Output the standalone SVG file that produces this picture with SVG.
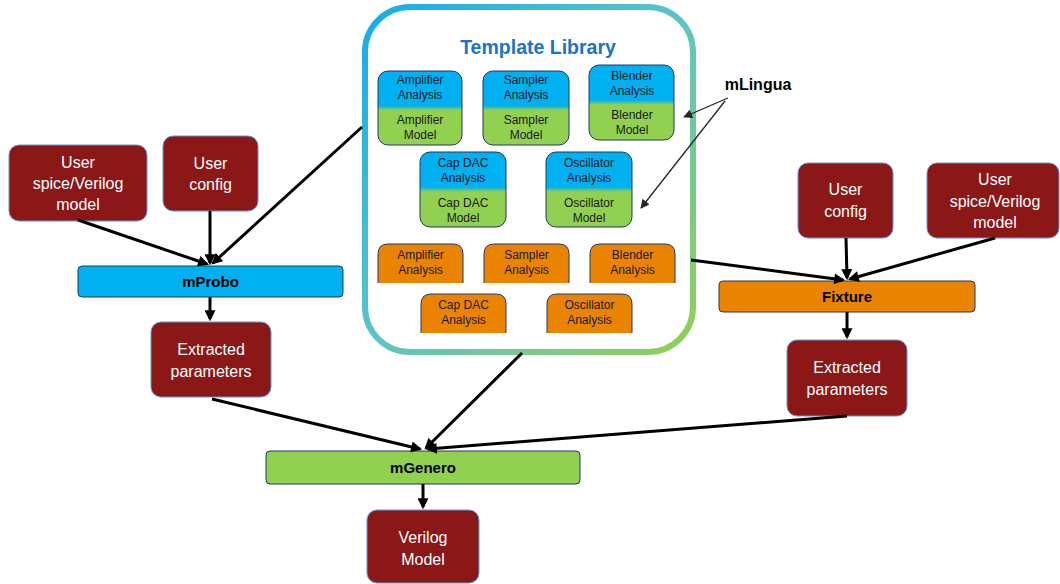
<svg xmlns="http://www.w3.org/2000/svg" width="1060" height="584" viewBox="0 0 1060 584">
<defs>
<linearGradient id="libStroke" x1="0" y1="0" x2="1" y2="1">
<stop offset="0" stop-color="#13ADEC"/>
<stop offset="0.5" stop-color="#5EC4C8"/>
<stop offset="1" stop-color="#92D050"/>
</linearGradient>
<linearGradient id="bg" x1="0" y1="0" x2="0" y2="1">
<stop offset="0" stop-color="#00B0F0"/>
<stop offset="0.47" stop-color="#00B0F0"/>
<stop offset="0.53" stop-color="#92D050"/>
<stop offset="1" stop-color="#92D050"/>
</linearGradient>
<marker id="arr" viewBox="0 0 10 10" refX="8" refY="5" markerWidth="12" markerHeight="11" markerUnits="userSpaceOnUse" orient="auto">
<path d="M0,0 L10,5 L0,10 z" fill="#000"/>
</marker>
<marker id="arrThin" viewBox="0 0 10 10" refX="9" refY="5" markerWidth="11" markerHeight="9" markerUnits="userSpaceOnUse" orient="auto">
<path d="M0,0 L10,5 L0,10 z" fill="#262626"/>
</marker>
</defs>
<style>
.red{fill:#8B1717;stroke:#5B9BD5;stroke-width:1}
.wt{fill:#fff;font-family:"Liberation Sans",Arial,sans-serif;font-size:16px;text-anchor:middle}
.bar{stroke:#203864;stroke-width:1}
.bt{fill:#000;font-family:"Liberation Sans",Arial,sans-serif;font-size:15px;font-weight:bold;text-anchor:middle}
.tb{fill:url(#bg);stroke:#203864;stroke-width:1}
.ob{fill:#EA8400;stroke:#203864;stroke-width:1}
.st{fill:#1a1a1a;font-family:"Liberation Sans",Arial,sans-serif;font-size:12px;text-anchor:middle}
.con{stroke:#000;stroke-width:3;fill:none;marker-end:url(#arr)}
.thin{stroke:#262626;stroke-width:1.3;fill:none;marker-end:url(#arrThin)}
</style>

<g id="template-library">
<rect x="365" y="7" width="328" height="345" rx="45" fill="#fff" stroke="url(#libStroke)" stroke-width="6"/>
<text x="538" y="54" fill="#1B74C4" font-family="Liberation Sans,Arial,sans-serif" font-size="19.5" font-weight="bold" text-anchor="middle">Template Library</text>
</g>

<g id="amp-tpl"><rect class="tb" x="378" y="71" width="84" height="74" rx="10"/>
<text class="st" x="420" y="84">Amplifier</text><text class="st" x="420" y="99">Analysis</text>
<text class="st" x="420" y="124">Amplifier</text><text class="st" x="420" y="139">Model</text></g>
<g id="sampler-tpl"><rect class="tb" x="483" y="71" width="86" height="74" rx="10"/>
<text class="st" x="526" y="84">Sampler</text><text class="st" x="526" y="99">Analysis</text>
<text class="st" x="526" y="124">Sampler</text><text class="st" x="526" y="139">Model</text></g>
<g id="blender-tpl"><rect class="tb" x="589" y="65" width="85" height="75" rx="10"/>
<text class="st" x="632" y="80">Blender</text><text class="st" x="632" y="95">Analysis</text>
<text class="st" x="632" y="119">Blender</text><text class="st" x="632" y="134">Model</text></g>
<g id="capdac-tpl"><rect class="tb" x="420" y="152" width="86" height="75" rx="10"/>
<text class="st" x="463" y="167">Cap DAC</text><text class="st" x="463" y="182">Analysis</text>
<text class="st" x="463" y="207">Cap DAC</text><text class="st" x="463" y="222">Model</text></g>
<g id="osc-tpl"><rect class="tb" x="546" y="152" width="86" height="75" rx="10"/>
<text class="st" x="589" y="167">Oscillator</text><text class="st" x="589" y="182">Analysis</text>
<text class="st" x="589" y="207">Oscillator</text><text class="st" x="589" y="222">Model</text></g>

<g id="amp-an"><path class="ob" d="M378,283 V254 Q378,244 388,244 H453 Q463,244 463,254 V283"/>
<text class="st" x="420.5" y="259">Amplifier</text><text class="st" x="420.5" y="274">Analysis</text></g>
<g id="sampler-an"><path class="ob" d="M484,283 V254 Q484,244 494,244 H559 Q569,244 569,254 V283"/>
<text class="st" x="526.5" y="259">Sampler</text><text class="st" x="526.5" y="274">Analysis</text></g>
<g id="blender-an"><path class="ob" d="M590,283 V254 Q590,244 600,244 H665 Q675,244 675,254 V283"/>
<text class="st" x="632.5" y="259">Blender</text><text class="st" x="632.5" y="274">Analysis</text></g>
<g id="capdac-an"><path class="ob" d="M421,333 V304 Q421,294 431,294 H496 Q506,294 506,304 V333"/>
<text class="st" x="463.5" y="309">Cap DAC</text><text class="st" x="463.5" y="324">Analysis</text></g>
<g id="osc-an"><path class="ob" d="M547,333 V304 Q547,294 557,294 H622 Q632,294 632,304 V333"/>
<text class="st" x="589.5" y="309">Oscillator</text><text class="st" x="589.5" y="324">Analysis</text></g>

<g id="mlingua"><text x="758" y="90" fill="#000" font-family="Liberation Sans,Arial,sans-serif" font-size="16" font-weight="bold" text-anchor="middle">mLingua</text></g>

<g id="user-model-l"><rect class="red" x="9" y="145" width="138" height="76" rx="10"/>
<text class="wt" x="78" y="168">User</text><text class="wt" x="78" y="189">spice/Verilog</text><text class="wt" x="78" y="210">model</text></g>
<g id="user-config-l"><rect class="red" x="163" y="136" width="95" height="75" rx="10"/>
<text class="wt" x="210.5" y="169">User</text><text class="wt" x="210.5" y="190">config</text></g>
<g id="mprobo"><rect class="bar" x="78" y="266" width="265" height="31" rx="4" fill="#00B0F0"/>
<text class="bt" x="210.5" y="287">mProbo</text></g>
<g id="extracted-l"><rect class="red" x="151" y="322" width="120" height="75" rx="10"/>
<text class="wt" x="211" y="355">Extracted</text><text class="wt" x="211" y="377">parameters</text></g>

<g id="user-config-r"><rect class="red" x="798" y="163" width="95" height="75" rx="10"/>
<text class="wt" x="845.5" y="195">User</text><text class="wt" x="845.5" y="217">config</text></g>
<g id="user-model-r"><rect class="red" x="927" y="163" width="132" height="75" rx="10"/>
<text class="wt" x="995" y="185">User</text><text class="wt" x="995" y="207">spice/Verilog</text><text class="wt" x="995" y="228">model</text></g>
<g id="fixture"><rect class="bar" x="719" y="281" width="256" height="31" rx="4" fill="#EA8400"/>
<text class="bt" x="847" y="302">Fixture</text></g>
<g id="extracted-r"><rect class="red" x="787" y="340" width="120" height="76" rx="10"/>
<text class="wt" x="847" y="373">Extracted</text><text class="wt" x="847" y="395">parameters</text></g>

<g id="mgenero"><rect class="bar" x="266" y="451" width="314" height="33" rx="4" fill="#92D050"/>
<text class="bt" x="423" y="473">mGenero</text></g>
<g id="verilog-model"><rect class="red" x="367" y="510" width="112" height="73" rx="10"/>
<text class="wt" x="423" y="543">Verilog</text><text class="wt" x="423" y="565">Model</text></g>

<g id="connectors">
<line class="con" x1="78" y1="220" x2="207" y2="264"/>
<line class="con" x1="210" y1="211" x2="210" y2="263"/>
<line class="con" x1="362" y1="127" x2="213" y2="263"/>
<line class="con" x1="210" y1="297" x2="210" y2="319"/>
<line class="con" x1="212" y1="399" x2="420" y2="449"/>
<line class="con" x1="522" y1="353" x2="426" y2="448"/>
<line class="con" x1="847" y1="416" x2="428" y2="449"/>
<line class="con" x1="423" y1="484" x2="423" y2="507"/>
<line class="con" x1="846" y1="238" x2="847" y2="278"/>
<line class="con" x1="995" y1="238" x2="850" y2="279"/>
<line class="con" x1="691" y1="260" x2="843" y2="280"/>
<line class="con" x1="847" y1="312" x2="847" y2="337"/>
<line class="thin" x1="728" y1="98" x2="684" y2="117"/>
<line class="thin" x1="725" y1="101" x2="641" y2="208"/>
</g>
</svg>
